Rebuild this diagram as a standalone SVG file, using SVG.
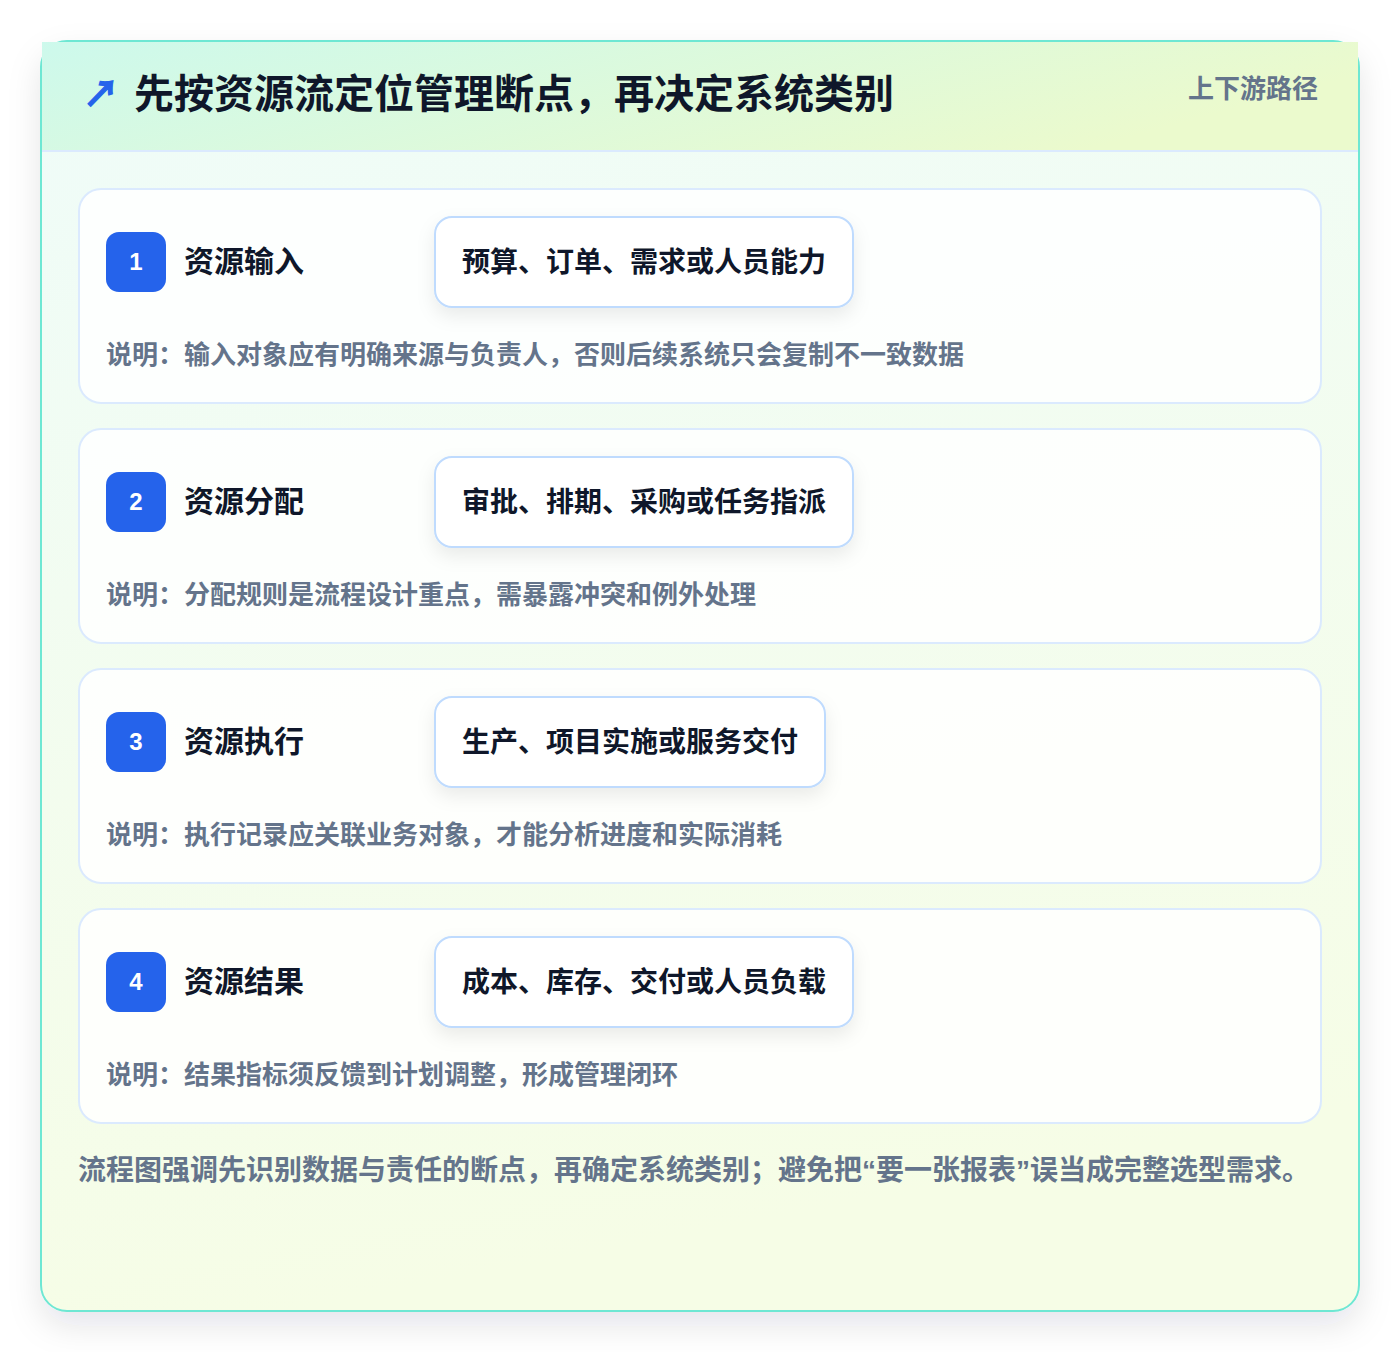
<svg xmlns="http://www.w3.org/2000/svg" width="1400" height="1352" viewBox="0 0 1400 1352">
<defs>
<linearGradient id="hdr" x1="0" y1="0" x2="1" y2="0.3">
<stop offset="0" stop-color="#cdf9ec"/>
<stop offset="1" stop-color="#ebfacd"/>
</linearGradient>
<linearGradient id="body" x1="0" y1="0" x2="0.2" y2="1">
<stop offset="0" stop-color="#effcf9"/>
<stop offset="1" stop-color="#f6fde6"/>
</linearGradient>
<filter id="outerShadow" x="-10%" y="-10%" width="120%" height="120%">
<feDropShadow dx="0" dy="14" stdDeviation="16" flood-color="#0f172a" flood-opacity="0.10"/>
</filter>
<filter id="pillShadow" x="-20%" y="-40%" width="140%" height="200%">
<feDropShadow dx="0" dy="8" stdDeviation="9" flood-color="#0f172a" flood-opacity="0.08"/>
</filter>
</defs>
<style>
.sans{font-family:"Liberation Sans","Noto Sans CJK SC",sans-serif}
.title{font-size:40px;font-weight:700;fill:#0f172a}
.tag{font-size:26px;font-weight:700;fill:#64748b}
.card{fill:#ffffff;fill-opacity:0.85;stroke:#dbeafe;stroke-width:2}
.badge{fill:#2563eb}
.num{font-size:24px;font-weight:700;fill:#ffffff}
.label{font-size:30px;font-weight:700;fill:#0f172a}
.pill{fill:#ffffff;stroke:#bfdbfe;stroke-width:2}
.pilltext{font-size:28px;font-weight:700;fill:#0f172a}
.desc{font-size:26px;font-weight:700;fill:#64748b}
.foot{font-size:28px;font-weight:700;fill:#64748b}
</style>
<rect width="1400" height="1352" fill="#ffffff"/>
<g id="frame">
<rect x="41" y="41" width="1318" height="1270" rx="26" fill="url(#body)" stroke="#6ee7d3" stroke-width="2" filter="url(#outerShadow)"/>
<path d="M42 42 H1358 V151 H42 Z" fill="url(#hdr)"/>
<line x1="42" y1="151" x2="1358" y2="151" stroke="#dbeafe" stroke-width="2"/>
</g>
<g id="header" class="sans">
<text x="83" y="107" font-size="36" font-weight="700" fill="#2563eb" stroke="#2563eb" stroke-width="1.2">↗</text>
<text x="134" y="108" class="title">先按资源流定位管理断点，再决定系统类别</text>
<text x="1318" y="98" class="tag" text-anchor="end">上下游路径</text>
</g>
<g id="step1" class="sans">
<rect x="79" y="189" width="1242" height="214" rx="22" class="card"/>
<rect x="106" y="232" width="60" height="60" rx="13" class="badge"/>
<text x="136" y="270" class="num" text-anchor="middle">1</text>
<text x="184" y="272" class="label">资源输入</text>
<rect x="435" y="217" width="418" height="90" rx="17" class="pill" filter="url(#pillShadow)"/>
<text x="462" y="272" class="pilltext">预算、订单、需求或人员能力</text>
<text x="106" y="364" class="desc">说明：输入对象应有明确来源与负责人，否则后续系统只会复制不一致数据</text>
</g>
<g id="step2" class="sans">
<rect x="79" y="429" width="1242" height="214" rx="22" class="card"/>
<rect x="106" y="472" width="60" height="60" rx="13" class="badge"/>
<text x="136" y="510" class="num" text-anchor="middle">2</text>
<text x="184" y="512" class="label">资源分配</text>
<rect x="435" y="457" width="418" height="90" rx="17" class="pill" filter="url(#pillShadow)"/>
<text x="462" y="512" class="pilltext">审批、排期、采购或任务指派</text>
<text x="106" y="604" class="desc">说明：分配规则是流程设计重点，需暴露冲突和例外处理</text>
</g>
<g id="step3" class="sans">
<rect x="79" y="669" width="1242" height="214" rx="22" class="card"/>
<rect x="106" y="712" width="60" height="60" rx="13" class="badge"/>
<text x="136" y="750" class="num" text-anchor="middle">3</text>
<text x="184" y="752" class="label">资源执行</text>
<rect x="435" y="697" width="390" height="90" rx="17" class="pill" filter="url(#pillShadow)"/>
<text x="462" y="752" class="pilltext">生产、项目实施或服务交付</text>
<text x="106" y="844" class="desc">说明：执行记录应关联业务对象，才能分析进度和实际消耗</text>
</g>
<g id="step4" class="sans">
<rect x="79" y="909" width="1242" height="214" rx="22" class="card"/>
<rect x="106" y="952" width="60" height="60" rx="13" class="badge"/>
<text x="136" y="990" class="num" text-anchor="middle">4</text>
<text x="184" y="992" class="label">资源结果</text>
<rect x="435" y="937" width="418" height="90" rx="17" class="pill" filter="url(#pillShadow)"/>
<text x="462" y="992" class="pilltext">成本、库存、交付或人员负载</text>
<text x="106" y="1084" class="desc">说明：结果指标须反馈到计划调整，形成管理闭环</text>
</g>
<g id="connectors"></g>
<g id="footer" class="sans">
<text x="78" y="1180" class="foot">流程图强调先识别数据与责任的断点，再确定系统类别；避免把“要一张报表”误当成完整选型需求。</text>
</g>
</svg>
